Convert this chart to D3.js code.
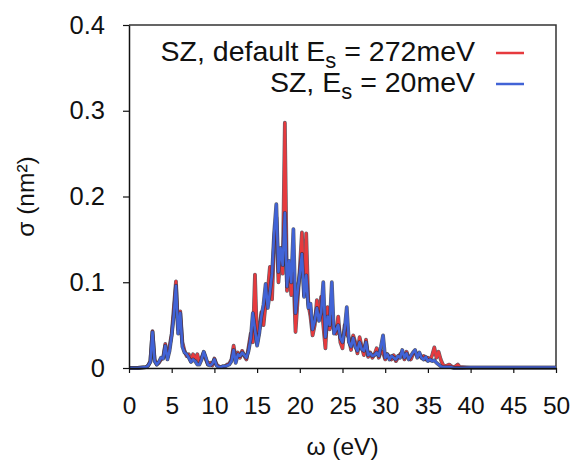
<!DOCTYPE html>
<html>
<head>
<meta charset="utf-8">
<script src="https://cdn.jsdelivr.net/npm/d3@7"></script>
<style>
  body { margin: 0; background: #fff; }
  svg text { font-family: "Liberation Sans", Arial, sans-serif; }
</style>
</head>
<body>
<svg width="576" height="468"></svg>
<script>
// energy grid (eV)
const omega = [0, 1, 2, 2.25, 2.5, 2.75, 3, 3.25, 3.5, 3.75, 4, 4.25, 4.5, 4.75, 5, 5.25, 5.5, 5.75, 6, 6.25, 6.5, 6.75, 7, 7.25, 7.5, 7.75,
  8, 8.25, 8.5, 8.75, 9, 9.25, 9.5, 9.75, 10, 10.25, 10.5, 10.75, 11, 11.25, 11.5, 11.75, 12, 12.25, 12.5, 12.75, 13, 13.25, 13.5, 13.75,
  14, 14.25, 14.5, 14.75, 15, 15.25, 15.5, 15.75, 16, 16.25, 16.5, 16.75, 17, 17.25, 17.5, 17.75, 18, 18.25, 18.5, 18.75, 19, 19.25, 19.5, 19.75,
  20, 20.25, 20.5, 20.75, 21, 21.25, 21.5, 21.75, 22, 22.25, 22.5, 22.75, 23, 23.25, 23.5, 23.75, 24, 24.25, 24.5, 24.75, 25, 25.25, 25.5, 25.75,
  26, 26.25, 26.5, 26.75, 27, 27.25, 27.5, 27.75, 28, 28.25, 28.5, 28.75, 29, 29.25, 29.5, 29.75, 30, 30.25, 30.5, 30.75, 31, 31.25, 31.5, 31.75,
  32, 32.25, 32.5, 32.75, 33, 33.25, 33.5, 33.75, 34, 34.25, 34.5, 34.75, 35, 35.25, 35.5, 35.75, 36, 36.25, 36.5, 36.75, 37, 37.25, 37.5, 37.75,
  38, 38.25, 38.5, 38.75, 39, 40, 50];

// SZ, default Es = 272meV
const sigmaDefault = [0, 0, 0.001, 0.003, 0.008, 0.043, 0.010, 0.004, 0.006, 0.010, 0.012, 0.028, 0.012, 0.025, 0.040, 0.070, 0.101, 0.045, 0.066, 0.030, 0.020, 0.014, 0.016, 0.008, 0.016, 0.010,
  0.016, 0.006, 0.012, 0.018, 0.010, 0.004, 0.006, 0.003, 0.011, 0.004, 0.002, 0.001, 0.002, 0.002, 0.004, 0.005, 0.010, 0.026, 0.010, 0.018, 0.012, 0.020, 0.014, 0.010,
  0.024, 0.040, 0.030, 0.109, 0.029, 0.045, 0.065, 0.050, 0.075, 0.090, 0.118, 0.080, 0.150, 0.176, 0.100, 0.133, 0.110, 0.286, 0.090, 0.120, 0.085, 0.110, 0.042, 0.080,
  0.116, 0.158, 0.085, 0.157, 0.075, 0.060, 0.038, 0.050, 0.079, 0.060, 0.083, 0.050, 0.023, 0.071, 0.045, 0.060, 0.045, 0.040, 0.060, 0.030, 0.023, 0.050, 0.040, 0.035,
  0.021, 0.038, 0.030, 0.017, 0.036, 0.025, 0.015, 0.033, 0.013, 0.018, 0.012, 0.016, 0.023, 0.012, 0.020, 0.018, 0.010, 0.016, 0.012, 0.010, 0.015, 0.008, 0.012, 0.016,
  0.018, 0.010, 0.019, 0.012, 0.010, 0.016, 0.019, 0.014, 0.016, 0.012, 0.014, 0.010, 0.012, 0.009, 0.015, 0.024, 0.012, 0.019, 0.010, 0.004, 0.002, 0.003, 0.004, 0.002,
  0.001, 0.002, 0.004, 0.001, 0.001, 0.0005, 0.0005];

// SZ, Es = 20meV
const sigmaSmall = [0, 0, 0.001, 0.003, 0.007, 0.042, 0.008, 0.004, 0.007, 0.012, 0.011, 0.026, 0.010, 0.020, 0.038, 0.062, 0.096, 0.040, 0.064, 0.025, 0.018, 0.016, 0.012, 0.007, 0.010, 0.008,
  0.004, 0.004, 0.010, 0.019, 0.012, 0.004, 0.003, 0.005, 0.010, 0.003, 0.001, 0.001, 0.002, 0.002, 0.003, 0.004, 0.008, 0.021, 0.006, 0.016, 0.014, 0.018, 0.015, 0.012,
  0.020, 0.034, 0.064, 0.045, 0.026, 0.040, 0.060, 0.074, 0.098, 0.070, 0.088, 0.110, 0.158, 0.191, 0.112, 0.140, 0.120, 0.181, 0.095, 0.125, 0.100, 0.162, 0.064, 0.090,
  0.110, 0.133, 0.083, 0.108, 0.070, 0.075, 0.045, 0.055, 0.070, 0.055, 0.065, 0.100, 0.036, 0.060, 0.050, 0.100, 0.040, 0.045, 0.050, 0.035, 0.030, 0.045, 0.071, 0.030,
  0.025, 0.035, 0.025, 0.020, 0.030, 0.022, 0.020, 0.030, 0.015, 0.017, 0.014, 0.015, 0.018, 0.014, 0.025, 0.038, 0.012, 0.016, 0.010, 0.014, 0.012, 0.010, 0.014, 0.012,
  0.021, 0.012, 0.017, 0.010, 0.014, 0.018, 0.021, 0.012, 0.018, 0.012, 0.010, 0.013, 0.008, 0.010, 0.008, 0.009, 0.006, 0.004, 0.002, 0.001, 0.001, 0.001, 0.001, 0.001,
  0, 0, 0, 0, 0, 0.0005, 0.0005];

const xTicks = [0, 5, 10, 15, 20, 25, 30, 35, 40, 45, 50];
const yTicks = [0, 0.1, 0.2, 0.3, 0.4];
const seriesNames = ["SZ, default E", "SZ, E"];
const seriesSubs = ["s", "s"];
const seriesTails = [" = 272meV", " = 20meV"];
const seriesColors = ["#e63a3e", "#4163d6"];

const svg = d3.select("svg");
const mLeft = 129, mRight = 556, mTop = 25, mBottom = 368;

const x = d3.scaleLinear().domain([0, 50]).range([mLeft, mRight]);
const y = d3.scaleLinear().domain([0, 0.4]).range([mBottom, mTop]);

// рамка сверху и справа
svg.append("path")
  .attr("d", `M${mLeft},${mTop}H${mRight}V${mBottom}`)
  .attr("fill", "none")
  .attr("stroke", "#333")
  .attr("stroke-width", 1.5);

const line = d3.line()
  .x((d) => x(d[0]))
  .y((d) => y(d[1]));

[sigmaDefault, sigmaSmall].forEach((vals, i) => {
  const n = Math.min(omega.length, vals.length);
  const pts = omega.slice(0, n).map((w, k) => [w, vals[k]]);
  svg.append("path")
    .attr("d", line(pts))
    .attr("fill", "none")
    .attr("stroke", "#2a2a3a")
    .attr("stroke-opacity", 0.75)
    .attr("stroke-width", 3.8)
    .attr("stroke-linejoin", "round");
  svg.append("path")
    .attr("d", line(pts))
    .attr("fill", "none")
    .attr("stroke", seriesColors[i])
    .attr("stroke-width", 2.6)
    .attr("stroke-linejoin", "round");
});

const fmtY = (d) => d === 0 ? "0" : d3.format(".1f")(d);

const gx = svg.append("g")
  .attr("transform", `translate(0,${mBottom})`)
  .call(d3.axisBottom(x).tickValues(xTicks).tickSize(5).tickPadding(24).tickSizeOuter(0));
const gy = svg.append("g")
  .attr("transform", `translate(${mLeft},0)`)
  .call(d3.axisLeft(y).tickValues(yTicks).tickFormat(fmtY).tickSize(6).tickPadding(18).tickSizeOuter(0));

[gx, gy].forEach((g, k) => {
  g.select(".domain").attr("stroke", "#111").attr("stroke-width", 1.5);
  g.selectAll(".tick line").attr("stroke", "#111").attr("stroke-width", 1.2);
  g.selectAll(".tick text")
    .attr("font-family", "'Liberation Sans', Arial, sans-serif")
    .attr("font-size", k === 0 ? 24.5 : 25.5)
    .attr("fill", "#111");
});

// подписи осей
svg.append("text")
  .attr("x", (mLeft + mRight) / 2)
  .attr("y", 455)
  .attr("text-anchor", "middle")
  .attr("font-size", 24.5)
  .attr("fill", "#111")
  .text("ω (eV)");

svg.append("text")
  .attr("transform", `translate(34,${(mTop + mBottom) / 2}) rotate(-90)`)
  .attr("text-anchor", "middle")
  .attr("font-size", 24.5)
  .attr("fill", "#111")
  .text("σ (nm²)");

// легенда
const legendY = [61, 92];
seriesNames.forEach((name, i) => {
  const t = svg.append("text")
    .attr("x", 475)
    .attr("y", legendY[i])
    .attr("text-anchor", "end")
    .attr("font-size", 28.5)
    .attr("fill", "#111");
  t.append("tspan").text(name);
  t.append("tspan").attr("dy", 7).attr("font-size", 22).text(seriesSubs[i]);
  t.append("tspan").attr("dy", -7).text(seriesTails[i]);
  svg.append("line")
    .attr("x1", 496).attr("x2", 524)
    .attr("y1", legendY[i] - 8).attr("y2", legendY[i] - 8)
    .attr("stroke", seriesColors[i])
    .attr("stroke-width", 2.5);
});
</script>
</body>
</html>
